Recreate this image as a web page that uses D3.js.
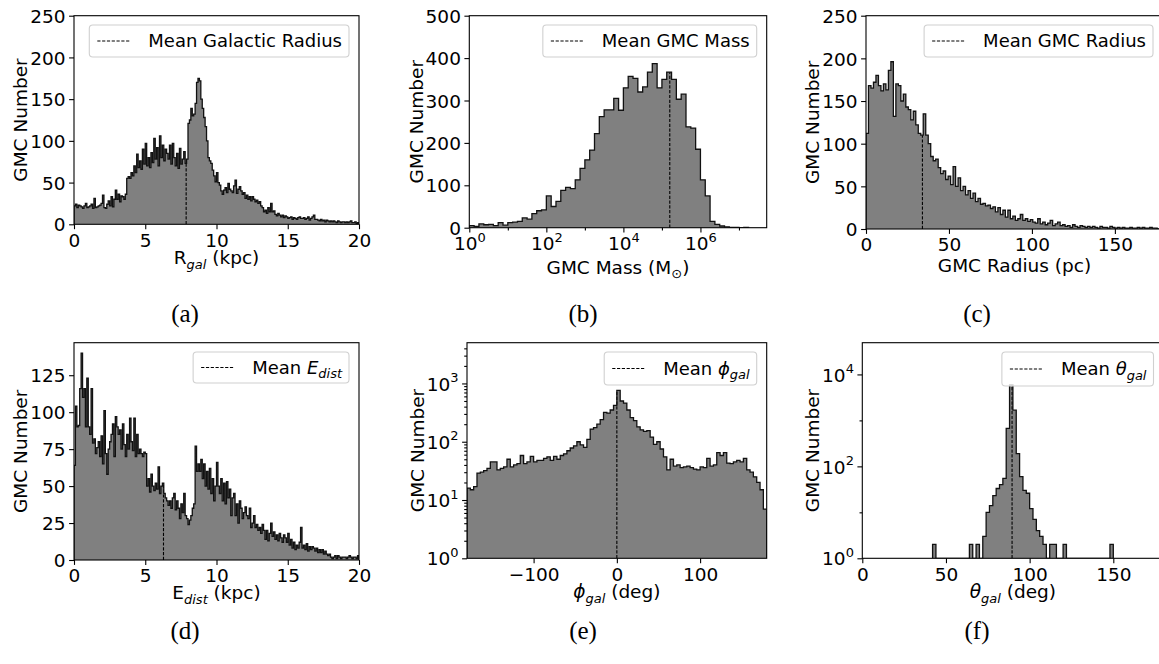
<!DOCTYPE html>
<html lang="en">
<head>
<meta charset="UTF-8">
<title>GMC distributions</title>
<script src="https://d3js.org/d3.v7.min.js"></script>
<style>
  body { margin: 0; background: #fff; }
  svg { display: block; font-family: "DejaVu Sans", sans-serif; }
  .tick text { font-size: 18.5px; fill: #000; font-family: "DejaVu Sans", sans-serif; }
  .tick line { stroke: #000; stroke-width: 1.1px; }
  .axis-label { font-size: 18.5px; fill: #000; }
  .legend-text { font-size: 18px; fill: #000; }
  .caption { font-family: "Liberation Serif", serif; font-size: 25px; fill: #000; }
</style>
</head>
<body>
<svg id="chart" width="1159" height="664"></svg>
<script>
// ---- data: histogram counts ----
// (a) galactocentric radius, bins of 0.1 kpc from 0
const rgalStart = 0, rgalWidth = 0.1;
const rgalCounts = [
  22,24,20,23,22,21,19,22,25,20, 21,22,24,19,31,20,21,22,23,25,
  35,20,19,24,28,22,33,21,30,41, 30,36,27,34,33,30,36,55,57,55,
  62,58,70,62,84,68,76,66,90,72, 97,70,80,68,86,74,103,78,92,70,
  106,80,95,76,90,85,78,95,72,97, 80,70,85,67,91,72,78,87,73,78,
  121,125,139,130,132,145,170,175,172,150, 139,128,117,100,80,76,73,65,58,51,
  62,50,47,40,36,41,44,38,49,42, 40,38,46,53,37,42,45,40,36,38,
  31,35,30,33,28,33,30,27,29,25, 27,22,20,15,17,13,20,15,25,15,
  16,12,10,13,11,9,11,8,10,9, 7,8,9,6,8,7,6,8,9,7,
  7,8,6,7,9,5,7,9,11,6, 6,5,4,6,4,5,3,5,4,3,
  4,3,4,3,2,4,3,2,3,3, 2,3,2,3,4,2,2,3,1,2
];

// (b) GMC mass, log bins of 0.125 dex from 10^0
const massLogStart = 0, massLogWidth = 0.125;
const massCounts = [
  5,3,9,7,8,5,12,6,12,13, 15,23,20,33,40,42,75,50,62,88,
  95,92,113,140,160,183,222,262,278,278, 305,277,330,357,352,320,332,367,387,330,
  350,367,350,303,315,238,235,185,113,75, 15,8,4,2,1,1,0,1
];

// (c) GMC radius, bins of 1.5 pc from 0
const radStart = 0, radWidth = 1.5;
const radCounts = [
  112,168,165,172,180,168,162,170,163,186, 196,132,170,168,150,158,143,140,128,138,
  122,112,110,135,110,100,85,80,82,72, 65,68,58,62,52,73,50,60,45,50,
  40,45,36,42,32,36,29,30,27,28, 24,26,20,25,17,22,14,22,12,15,
  10,12,17,10,12,9,11,8,7,12, 6,8,5,7,10,4,6,8,4,5,
  3,4,2,5,3,2,4,3,2,3, 2,3,2,1,3,2,2,1,3,2,
  1,2,1,2,1,1,2,1,1,2, 1,2,1,1,2,1,1,0,2,1
];

// (d) E_dist, bins of 0.1 kpc from 0
const edStart = 0, edWidth = 0.1;
const edCounts = [
  64,104,90,91,116,140,110,116,90,123, 90,85,116,79,82,72,76,80,70,84,
  65,101,72,58,75,80,85,92,70,97, 90,85,88,75,92,78,70,85,75,96,
  80,74,96,70,85,72,75,72,70,73, 72,50,55,46,58,50,47,52,48,63,
  45,50,52,45,42,40,37,40,35,42, 45,34,40,35,28,38,32,45,30,28,
  24,27,30,35,38,77,60,65,60,68, 55,65,50,60,48,62,45,55,40,50,
  66,50,45,55,40,52,38,53,42,48, 30,42,45,30,38,25,40,35,28,32,
  36,30,28,35,22,25,30,22,24,20, 22,18,24,20,14,20,13,18,25,16,
  19,14,17,13,18,15,12,17,15,12, 18,10,14,8,12,7,10,8,12,22,
  8,10,7,11,6,9,7,9,8,6, 8,5,7,5,7,4,6,4,3,4,
  2,1,2,3,1,3,2,1,2,2, 2,1,2,3,2,1,2,2,1,3
];

// (e) phi_gal, bins of 4 deg from -180
const phiStart = -180, phiWidth = 4;
const phiCounts = [
  16,15,17,29,30,32,35,45,45,33, 35,37,50,37,40,42,58,42,45,56,
  45,48,48,52,55,48,56,50,58,62, 70,78,85,100,88,80,110,165,175,200,
  240,320,310,350,420,760,500,460,350,260, 230,180,160,150,155,120,90,100,75,55,
  33,50,38,40,36,37,38,36,34,33, 37,36,52,38,40,65,58,65,43,42,
  45,48,45,52,33,30,25,20,15,7
];

// (f) theta_gal, bins of 2 deg from 42
const thetaStart = 42, thetaWidth = 2;
const thetaCounts = [
  2,0,0,0,0,0,0,0,0,0, 0,2,0,2,0,3,10,14,23,33,
  40,55,670,5900,1670,190,60,30,26,12, 7,4,3,2,0,2,2,0,0,2,
  0,0,0,0,0,0,0,0,0,0, 0,0,0,2
];

const means = [7.87, 1.6e5, 34, 6.28, 0, 89.5];
const captions = ["(a)", "(b)", "(c)", "(d)", "(e)", "(f)"];

// ---- helpers ----
const svg = d3.select("#chart");

function linEdges(start, w, n) { return d3.range(n + 1).map(i => start + i * w); }
function logEdges(start, w, n) { return d3.range(n + 1).map(i => Math.pow(10, start + i * w)); }

// text made of parts: {t, it (italic), sub (subscript)}
function rich(sel, parts) {
  let shifted = false;
  parts.forEach(p => {
    const ts = sel.append("tspan").text(p.t);
    if (p.it) ts.attr("font-style", "italic");
    if (p.sub) {
      ts.attr("font-size", "13px");
      if (!shifted) { ts.attr("dy", 4.5); shifted = true; }
    } else if (shifted) { ts.attr("dy", -4.5); shifted = false; }
  });
}

function supLabels(g) {
  g.selectAll(".tick text").each(function(d) {
    const t = d3.select(this);
    const e = Math.round(Math.log10(d));
    t.text(null);
    t.append("tspan").text("10");
    t.append("tspan").attr("dy", -8.5).attr("font-size", "13px").text(e);
  });
}

const panels = [
  { box: [74, 359, 15.7, 224.3], counts: rgalCounts, edges: linEdges(rgalStart, rgalWidth, rgalCounts.length),
    x: d3.scaleLinear().domain([0, 20]), xTicks: [0, 5, 10, 15, 20],
    y: d3.scaleLinear().domain([0, 250]), yTicks: [0, 50, 100, 150, 200, 250],
    xlab: [{t: "R"}, {t: "gal", it: 1, sub: 1}, {t: " (kpc)"}], xlabDy: 40,
    legend: [{t: "Mean Galactic Radius"}], legH: 32, cap: [185, 322] },
  { box: [469.3, 766.7, 15.7, 227.7], counts: massCounts, edges: logEdges(massLogStart, massLogWidth, massCounts.length),
    x: d3.scaleLog().domain([1, Math.pow(10, 7.72)]), xTicks: [1, 1e2, 1e4, 1e6], xMinor: [10, 1e3, 1e5, 1e7], xLog: 1,
    y: d3.scaleLinear().domain([0, 500]), yTicks: [0, 100, 200, 300, 400, 500],
    xlab: [{t: "GMC Mass (M"}, {t: "\u2299", sub: 1}, {t: ")"}], xlabDy: 46,
    legend: [{t: "Mean GMC Mass"}], legH: 32, cap: [583, 322] },
  { box: [866, 1163, 15.7, 229], counts: radCounts, edges: linEdges(radStart, radWidth, radCounts.length),
    x: d3.scaleLinear().domain([0, 179]), xTicks: [0, 50, 100, 150],
    y: d3.scaleLinear().domain([0, 250]), yTicks: [0, 50, 100, 150, 200, 250],
    xlab: [{t: "GMC Radius (pc)"}], xlabDy: 43,
    legend: [{t: "Mean GMC Radius"}], legH: 32, cap: [977, 322] },
  { box: [74, 359, 342.7, 560], counts: edCounts, edges: linEdges(edStart, edWidth, edCounts.length),
    x: d3.scaleLinear().domain([0, 20]), xTicks: [0, 5, 10, 15, 20],
    y: d3.scaleLinear().domain([0, 147]), yTicks: [0, 25, 50, 75, 100, 125],
    xlab: [{t: "E"}, {t: "dist", it: 1, sub: 1}, {t: " (kpc)"}], xlabDy: 39,
    legend: [{t: "Mean "}, {t: "E", it: 1}, {t: "dist", it: 1, sub: 1}], legH: 31, cap: [185, 639] },
  { box: [467, 766.7, 342.7, 558.3], counts: phiCounts, edges: linEdges(phiStart, phiWidth, phiCounts.length),
    x: d3.scaleLinear().domain([-180, 180]), xTicks: [-100, 0, 100],
    y: d3.scaleLog().domain([1, 5000]), yTicks: [1, 10, 100, 1000], yLog: 1,
    yMinor: d3.range(0, 4).flatMap(k => d3.range(2, 10).map(s => s * Math.pow(10, k))).filter(v => v < 5000),
    xlab: [{t: "\u03d5", it: 1}, {t: "gal", it: 1, sub: 1}, {t: " (deg)"}], xlabDy: 40,
    legend: [{t: "Mean "}, {t: "\u03d5", it: 1}, {t: "gal", it: 1, sub: 1}], legH: 33, cap: [583, 639] },
  { box: [862.3, 1163.5, 342.7, 558.3], counts: thetaCounts, edges: linEdges(thetaStart, thetaWidth, thetaCounts.length),
    x: d3.scaleLinear().domain([0, 180]), xTicks: [0, 50, 100, 150],
    y: d3.scaleLog().domain([1, 49000]), yTicks: [1, 100, 10000], yMinor: [10, 1000], yLog: 1,
    xlab: [{t: "\u03b8", it: 1}, {t: "gal", it: 1, sub: 1}, {t: " (deg)"}], xlabDy: 40,
    legend: [{t: "Mean "}, {t: "\u03b8", it: 1}, {t: "gal", it: 1, sub: 1}], legH: 34, cap: [977, 639] }
];

panels.forEach((p, i) => {
  const [l, r, t, b] = p.box;
  const x = p.x.range([l, r]);
  const y = p.y.range([b, t]);
  const g = svg.append("g");

  const clipId = "clip" + i;
  svg.append("clipPath").attr("id", clipId)
    .append("rect").attr("x", l).attr("y", t).attr("width", r - l).attr("height", b - t);

  const yv = c => (c > 0 ? y(c) : b);
  const pts = [[x(p.edges[0]), b]];
  p.counts.forEach((c, k) => {
    pts.push([x(p.edges[k]), yv(c)]);
    pts.push([x(p.edges[k + 1]), yv(c)]);
  });
  pts.push([x(p.edges[p.edges.length - 1]), b]);

  const hist = g.append("g").attr("clip-path", `url(#${clipId})`);
  hist.append("path").attr("d", d3.line()(pts) + "Z").attr("fill", "#808080").attr("stroke", "none");

  // mean line up to the bar containing the mean
  const m = means[i];
  const k = d3.bisectRight(p.edges, m) - 1;
  hist.append("line")
    .attr("x1", x(m)).attr("x2", x(m)).attr("y1", b).attr("y2", yv(p.counts[k]))
    .attr("stroke", "#000").attr("stroke-width", 1.1).attr("stroke-dasharray", "3.2,1.6");

  hist.append("path").attr("d", d3.line()(pts)).attr("fill", "none")
    .attr("stroke", "#111").attr("stroke-width", 1.3).attr("stroke-linejoin", "miter");

  // axes
  const xAxis = d3.axisBottom(x).tickValues(p.xTicks).tickSize(4.9).tickPadding(4.4)
    .tickFormat(p.xLog ? (d => d) : (d => d3.format("")(d).replace("-", "\u2212")));
  const gx = g.append("g").attr("transform", `translate(0,${b})`).call(xAxis);
  gx.select(".domain").remove();
  if (p.xLog) supLabels(gx);
  if (p.xMinor) {
    const gm = g.append("g").attr("transform", `translate(0,${b})`)
      .call(d3.axisBottom(x).tickValues(p.xMinor.filter(v => v < x.domain()[1])).tickSize(2.8).tickFormat(""));
    gm.select(".domain").remove();
    gm.selectAll("line").attr("stroke-width", 0.8);
  }

  const yAxis = d3.axisLeft(y).tickValues(p.yTicks).tickSize(4.9).tickPadding(3.5).tickFormat(d => d);
  const gy = g.append("g").attr("transform", `translate(${l},0)`).call(yAxis);
  gy.select(".domain").remove();
  gy.selectAll(".tick text").attr("dy", "0.36em");
  if (p.yLog) supLabels(gy);
  if (p.yMinor) {
    const gm = g.append("g").attr("transform", `translate(${l},0)`)
      .call(d3.axisLeft(y).tickValues(p.yMinor).tickSize(2.8).tickFormat(""));
    gm.select(".domain").remove();
    gm.selectAll("line").attr("stroke-width", 0.8);
  }

  // frame
  g.append("rect").attr("x", l).attr("y", t).attr("width", r - l).attr("height", b - t)
    .attr("fill", "none").attr("stroke", "#000").attr("stroke-width", 1.1);

  // labels
  rich(g.append("text").attr("class", "axis-label").attr("text-anchor", "middle")
    .attr("x", (l + r) / 2).attr("y", b + p.xlabDy), p.xlab);

  // y label sits just left of the widest tick label
  let minLeft = l;
  gy.selectAll(".tick text").each(function() { minLeft = Math.min(minLeft, this.getBBox().x + l); });
  g.append("text").attr("class", "axis-label").attr("text-anchor", "middle")
    .attr("transform", `translate(${minLeft - 3},${(t + b) / 2}) rotate(-90)`)
    .text("GMC Number");

  // legend
  const lg = g.append("g");
  const lt = lg.append("text").attr("class", "legend-text").attr("y", t + 9.3 + p.legH / 2 + 6);
  rich(lt, p.legend);
  const tw = lt.node().getComputedTextLength();
  const boxR = r - 10, boxL = boxR - (59 + tw + 7);
  lg.insert("rect", "text").attr("x", boxL).attr("y", t + 9.3).attr("width", boxR - boxL).attr("height", p.legH)
    .attr("rx", 3.5).attr("fill", "#fff").attr("fill-opacity", 0.8).attr("stroke", "#d0d0d0").attr("stroke-width", 1.1);
  lt.attr("x", boxL + 59);
  lg.append("line").attr("x1", boxL + 8).attr("x2", boxL + 41)
    .attr("y1", t + 9.3 + p.legH / 2).attr("y2", t + 9.3 + p.legH / 2)
    .attr("stroke", "#000").attr("stroke-width", 1.1).attr("stroke-dasharray", "3.2,1.6");

  svg.append("text").attr("class", "caption").attr("text-anchor", "middle")
    .attr("x", p.cap[0]).attr("y", p.cap[1]).text(captions[i]);
});
</script>
</body>
</html>
